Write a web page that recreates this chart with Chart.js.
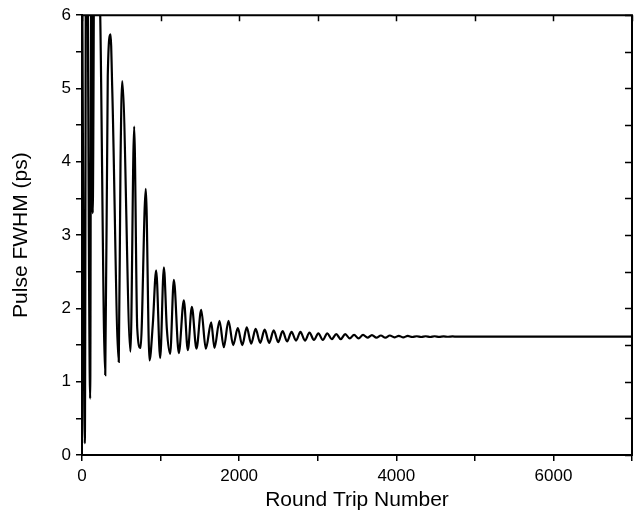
<!DOCTYPE html>
<html>
<head>
<meta charset="utf-8">
<script src="https://cdn.jsdelivr.net/npm/chart.js@4.4.1/dist/chart.umd.min.js"></script>
<style>
  html, body { margin: 0; padding: 0; background: #fff; }
  #wrap { width: 642px; height: 522px; }
</style>
</head>
<body>
<div id="wrap"><canvas id="fwhmChart" width="642" height="522"></canvas></div>
<script>
// Round trip numbers and pulse FWHM (ps) (peaks, troughs, kinks)
const roundTrips = [
    0, 36, 55, 104, 120, 136, 165, 232, 296, 328, 363, 386, 468, 490, 512,
    617, 664, 703, 745, 812, 859, 901, 944, 995, 1042, 1080, 1122, 1169, 1232,
    1296, 1347, 1398, 1457, 1517, 1576, 1644, 1686, 1750, 1805, 1864, 1924, 1983,
    2040, 2097, 2153, 2210, 2268, 2325, 2382, 2440, 2497, 2553, 2610, 2667, 2724,
    2780, 2838, 2895, 2952, 3008, 3065, 3122, 3179, 3236, 3293, 3350, 3407, 3463,
    3520, 3577, 3634, 3690, 3747, 3804, 3861, 3918, 3975, 4032, 4089, 4146, 4203,
    4260, 4317, 4374, 4431, 4488, 4545, 4602, 4659, 4716, 4773, 4830, 5100, 7000
];
const fwhm = [
    7.0, 0.16, 9.0, 0.77, 8.0, 3.3, 9.0, 6.0, 1.09, 5.17, 5.74, 4.95, 1.27, 3.97, 5.10,
    1.41, 4.48, 1.73, 1.46, 3.63, 1.29, 1.78, 2.52, 1.32, 2.56, 1.72, 1.38, 2.39, 1.39,
    2.11, 1.43, 2.02, 1.45, 1.98, 1.45, 1.81, 1.46, 1.83, 1.47, 1.83, 1.50, 1.73,
    1.50, 1.74, 1.52, 1.72, 1.53, 1.71, 1.53, 1.70, 1.54, 1.69, 1.55, 1.68, 1.56,
    1.68, 1.56, 1.67, 1.57, 1.66, 1.57, 1.66, 1.58, 1.65, 1.58, 1.65, 1.59, 1.64,
    1.59, 1.64, 1.60, 1.635, 1.60, 1.63, 1.60, 1.63, 1.605, 1.625, 1.605, 1.625, 1.61,
    1.62, 1.61, 1.62, 1.61, 1.62, 1.612, 1.618, 1.613, 1.617, 1.614, 1.616, 1.615, 1.615
];

// Tick labels
const xTickLabels = [0, 2000, 4000, 6000];
const yTickLabels = [0, 1, 2, 3, 4, 5, 6];

const FONT = "'Liberation Sans', Arial, sans-serif";

// top and right frame with inward ticks
const frameTicks = {
    id: 'frameTicks',
    afterDraw(chart) {
        const { ctx, chartArea: a, scales: { x, y } } = chart;
        ctx.save();
        ctx.strokeStyle = '#000';
        ctx.lineWidth = 2;
        ctx.beginPath();
        ctx.moveTo(a.left - 1, a.top);
        ctx.lineTo(a.right, a.top);
        ctx.lineTo(a.right, a.bottom + 1);
        ctx.stroke();
        ctx.lineWidth = 1.5;
        ctx.beginPath();
        x.ticks.forEach(t => {
            const px = Math.round(x.getPixelForValue(t.value)) + 0.5;
            ctx.moveTo(px, a.top);
            ctx.lineTo(px, a.top + 6);
        });
        y.ticks.forEach(t => {
            const py = Math.round(y.getPixelForValue(t.value)) + 0.5;
            ctx.moveTo(a.right, py);
            ctx.lineTo(a.right - 7, py);
        });
        ctx.stroke();
        ctx.restore();
    }
};

const points = roundTrips.map((r, i) => ({ x: r, y: fwhm[i] }));

const ctx = document.getElementById('fwhmChart').getContext('2d');
const fwhmChart = new Chart(ctx, {
    type: 'line',
    data: {
        datasets: [{
            data: points,
            borderColor: '#000',
            borderWidth: 2.2,
            pointRadius: 0,
            fill: false,
            cubicInterpolationMode: 'monotone'
        }]
    },
    options: {
        responsive: false,
        animation: false,
        devicePixelRatio: 1,
        layout: { padding: { top: 14, right: 10, left: 0, bottom: 0 } },
        plugins: { legend: { display: false }, tooltip: { enabled: false } },
        scales: {
            x: {
                type: 'linear',
                min: 0,
                max: 7000,
                afterFit: s => { s.height = 67; },
                border: { display: true, color: '#000', width: 2 },
                grid: { drawOnChartArea: false, drawTicks: true, tickLength: 6, color: '#000', lineWidth: 1.5 },
                ticks: {
                    stepSize: 1000,
                    autoSkip: false,
                    maxRotation: 0,
                    color: '#000',
                    padding: 5,
                    font: { family: FONT, size: 17 },
                    callback: v => xTickLabels.includes(v) ? String(v) : ''
                },
                title: {
                    display: true,
                    text: 'Round Trip Number',
                    color: '#000',
                    font: { family: FONT, size: 21 },
                    padding: { top: 0, bottom: 9 }
                }
            },
            y: {
                min: 0,
                max: 6,
                afterFit: s => { s.width = 82; },
                border: { display: true, color: '#000', width: 2 },
                grid: { drawOnChartArea: false, drawTicks: true, tickLength: 6, color: '#000', lineWidth: 1.5 },
                ticks: {
                    stepSize: 0.5,
                    autoSkip: false,
                    color: '#000',
                    padding: 5,
                    font: { family: FONT, size: 17 },
                    callback: v => yTickLabels.includes(v) ? String(v) : ''
                },
                title: {
                    display: true,
                    text: 'Pulse FWHM (ps)',
                    color: '#000',
                    font: { family: FONT, size: 21 },
                    padding: { top: 9, bottom: 0 }
                }
            }
        }
    },
    plugins: [frameTicks]
});
</script>
</body>
</html>
